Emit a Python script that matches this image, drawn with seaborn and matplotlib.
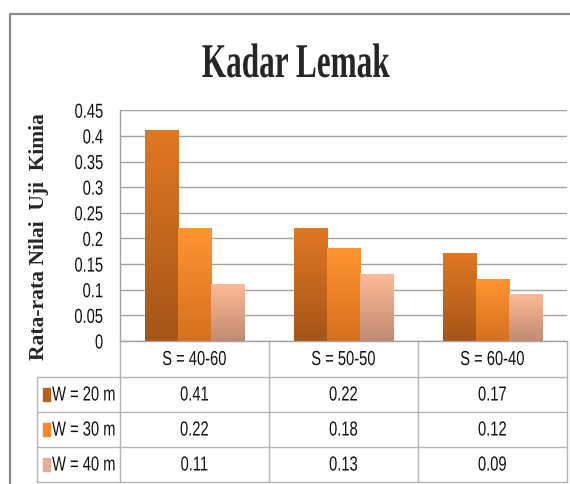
import numpy as np
import pandas as pd
import matplotlib
matplotlib.use('Agg')
import matplotlib.pyplot as plt
import matplotlib.transforms as mtransforms
from matplotlib.colors import LinearSegmentedColormap
from matplotlib.lines import Line2D
from matplotlib.patches import Rectangle
from matplotlib.patheffects import AbstractPathEffect
from matplotlib.transforms import Affine2D
import seaborn as sns

# data
categories = ['S = 40-60', 'S = 50-50', 'S = 60-40']
series = ['W = 20 m', 'W = 30 m', 'W = 40 m']
w20 = [0.41, 0.22, 0.17]
w30 = [0.22, 0.18, 0.12]
w40 = [0.11, 0.13, 0.09]
yticks = [0, 0.05, 0.1, 0.15, 0.2, 0.25, 0.3, 0.35, 0.4, 0.45]
ytick_labels = ['0', '0.05', '0.1', '0.15', '0.2', '0.25', '0.3', '0.35', '0.4', '0.45']

top_colors = ['#E07823', '#FF9431', '#FFBA96']
bottom_colors = ['#A55518', '#D5701E', '#C08A73']
key_colors = ['#BA5F1D', '#F3872A', '#E4AD95']

values = {series[0]: w20, series[1]: w30, series[2]: w40}
df = pd.DataFrame([(c, s, values[s][i]) for s in series for i, c in enumerate(categories)],
                  columns=['S', 'W', 'nilai'])


class Stretch(AbstractPathEffect):
    # stretch glyphs vertically around height c (glyph units, em = 100)
    def __init__(self, sy, c=0):
        super().__init__()
        self.sy = sy
        self.c = c

    def draw_path(self, renderer, gc, tpath, affine, rgbFace=None):
        t = Affine2D().translate(0, -self.c).scale(1, self.sy).translate(0, self.c)
        renderer.draw_path(gc, tpath, t + affine, rgbFace)


sns.set_style('white')
sans = ['Liberation Sans', 'DejaVu Sans']
serif = ['Liberation Serif', 'DejaVu Serif']
plt.rcParams['font.family'] = sans

narrow = [Stretch(1.38, 36)]
txt = dict(fontsize=10.6, color='#111111', path_effects=narrow)

W, H = 570, 484
fig = plt.figure(figsize=(W / 100, H / 100), dpi=100)
ax = fig.add_axes([120 / W, 1 - 341 / H, 447 / W, 231 / H])

sns.barplot(data=df, x='S', y='nilai', hue='W', palette=key_colors, width=0.665,
            saturation=1, legend=False, ax=ax)

# vertical gradient fill on each bar
for k, cont in enumerate(ax.containers):
    cmap = LinearSegmentedColormap.from_list('g%d' % k, [bottom_colors[k], top_colors[k]])
    for bar in cont:
        x0, bw, bh = bar.get_x(), bar.get_width(), bar.get_height()
        grad = np.linspace(0, 1, 256).reshape(-1, 1)
        ax.imshow(grad, extent=[x0, x0 + bw, 0, bh], origin='lower', cmap=cmap,
                  aspect='auto', zorder=bar.get_zorder() + 0.1)

ax.set_xlim(-0.5, 2.5)
ax.set_ylim(0, 0.4505)
ax.set_yticks(yticks)
ax.set_yticklabels(ytick_labels)
for lab in ax.get_yticklabels():
    lab.set(**txt)
ax.set_xticks([])
ax.set_xlabel('')
ax.tick_params(axis='y', length=0, pad=12)
ax.yaxis.grid(True, color='#A3A3A3', lw=1)
ax.set_axisbelow(True)
for side in ['top', 'right']:
    ax.spines[side].set_visible(False)
for side in ['left', 'bottom']:
    ax.spines[side].set_color('#A3A3A3')
    ax.spines[side].set_linewidth(1)

ax.set_ylabel('Rata-rata Nilai  Uji  Kimia', family=serif, fontweight='bold', fontsize=15.5)
ax.yaxis.label.set_va('center')
ax.yaxis.set_label_coords(-0.181, 0.45)

fig.text(0.519, 1 - 77 / H, 'Kadar Lemak', family=serif, fontweight='bold', fontsize=22.5,
         ha='center', va='baseline', path_effects=[Stretch(1.55)])

# data table under the plot
trans = mtransforms.blended_transform_factory(ax.transData, ax.transAxes)
line_kw = dict(color='#B4B4B4', lw=1, clip_on=False)
left_col = -0.186
row_edges = [0, -36 / 231, -71 / 231, -106 / 231, -141 / 231]

for y in row_edges[1:]:
    ax.add_line(Line2D([left_col, 1], [y, y], transform=ax.transAxes, **line_kw))
ax.add_line(Line2D([left_col, left_col], [row_edges[1], row_edges[-1]], transform=ax.transAxes, **line_kw))
ax.add_line(Line2D([0, 0], [0, row_edges[-1]], transform=ax.transAxes, **line_kw))
ax.add_line(Line2D([1, 1], [0, row_edges[-1]], transform=ax.transAxes, **line_kw))
for xb in [0.5, 1.5]:
    ax.add_line(Line2D([xb, xb], [0, row_edges[-1]], transform=trans, **line_kw))

for i, c in enumerate(categories):
    ax.text(i, (row_edges[0] + row_edges[1]) / 2, c, transform=trans, ha='center',
            va='center', **txt)

rows = [w20, w30, w40]
for r, s in enumerate(series):
    yc = (row_edges[r + 1] + row_edges[r + 2]) / 2
    ax.add_patch(Rectangle((-0.172, yc - 0.026), 0.0157, 0.052, transform=ax.transAxes,
                           color=key_colors[r], clip_on=False))
    ax.text(-0.152, yc, s, transform=ax.transAxes, ha='left', va='center', **txt)
    for i, v in enumerate(rows[r]):
        ax.text(i, yc, '%g' % v, transform=trans, ha='center', va='center', **txt)

# outer chart frame
fig.add_artist(Line2D([10 / W, 10 / W, 1], [0, 1 - 14 / H, 1 - 14 / H],
                      transform=fig.transFigure, color='#8A8A8A', lw=1.6))

fig.savefig('out.png', dpi=100)
